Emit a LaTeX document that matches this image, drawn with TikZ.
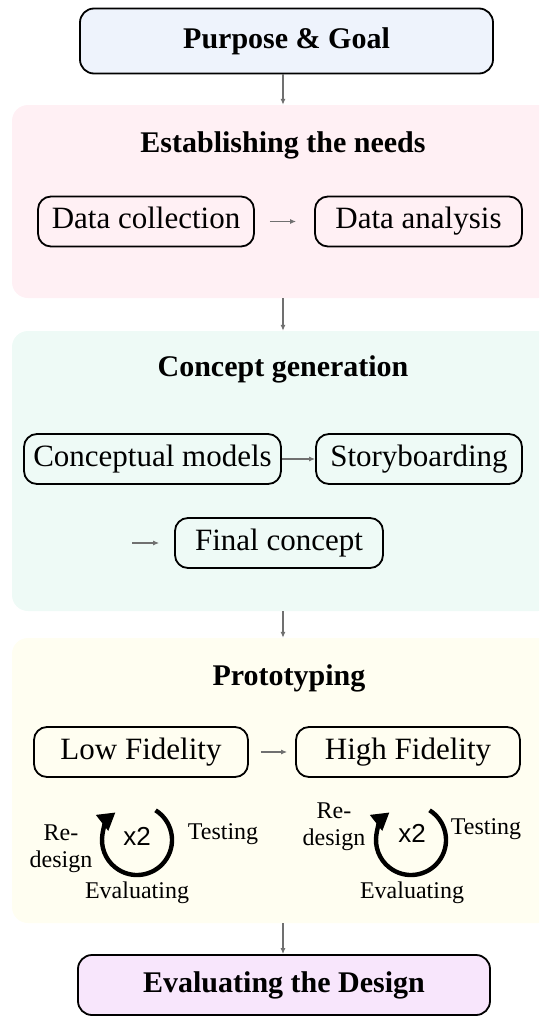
\documentclass[tikz,border=0pt]{standalone}
\usepackage{fontspec}
\setmainfont{Liberation Serif}
\setsansfont{Liberation Sans}
\usetikzlibrary{arrows.meta}
\definecolor{purposefill}{HTML}{EEF3FC}
\definecolor{pinkfill}{HTML}{FFF0F4}
\definecolor{tealfill}{HTML}{EEFAF6}
\definecolor{yellowfill}{HTML}{FFFEF1}
\definecolor{lavfill}{HTML}{F8E6FC}
\definecolor{flowgray}{HTML}{707070}
\begin{document}
\begin{tikzpicture}[x=1pt,y=-1pt,
  mainbox/.style={draw=black, line width=1.8pt, rounded corners=14pt, inner sep=0pt,
    text height=20pt, text depth=6pt, font=\fontsize{30}{34}\selectfont\bfseries},
  stepbox/.style={draw=black, line width=1.8pt, rounded corners=13pt, inner sep=0pt,
    text height=21pt, text depth=6.5pt, minimum height=50pt, font=\fontsize{31}{34}\selectfont},
  region/.style={rounded corners=16pt, inner sep=0pt},
  title/.style={font=\fontsize{30}{34}\selectfont\bfseries, inner sep=0pt},
  flow/.style={draw=flowgray, line width=1.1pt, -{Latex[length=6pt,width=5pt]}},
  loop/.style={line width=4.4pt, -{Triangle[length=17pt,width=19pt]}},
  lbl/.style={font=\fontsize{24}{27}\selectfont, inner sep=0pt, align=center},
  cnt/.style={font=\fontsize{26}{28}\selectfont\sffamily, inner sep=0pt}
]
\useasboundingbox (0,0) rectangle (539,1017);
\clip (0,0) rectangle (539,1017);

% regions
\node[region, fill=pinkfill, minimum width=542pt, minimum height=193pt] (needs) at (283,201.5) {};
\node[region, fill=tealfill, minimum width=542pt, minimum height=280pt] (concept) at (283,471) {};
\node[region, fill=yellowfill, minimum width=542pt, minimum height=285pt] (proto) at (283,780.5) {};

% top and bottom boxes
\node[mainbox, fill=purposefill, minimum width=413pt, minimum height=65pt] (purpose) at (286.5,41) {Purpose \& Goal};
\node[mainbox, fill=lavfill, minimum width=412pt, minimum height=60pt] (evald) at (284,985) {Evaluating the Design};

% establishing the needs
\node[title] (t1) at (283,145) {Establishing the needs};
\node[stepbox, minimum width=216pt] (dc) at (146,221.5) {Data collection};
\node[stepbox, minimum width=207pt] (da) at (418.5,221.5) {Data analysis};
\draw[flow, shorten <=15pt, shorten >=18pt] (dc.east) -- (da.west);

% concept generation
\node[title] (t2) at (283,369) {Concept generation};
\node[stepbox, minimum width=257pt] (cm) at (152.5,459) {Conceptual models};
\node[stepbox, minimum width=206pt] (sb) at (419,459) {Storyboarding};
\draw[flow] (cm.east) -- (sb.west);
\node[stepbox, minimum width=208pt] (fc) at (279,543) {Final concept};
\coordinate (fcin) at (132,543);
\draw[flow, shorten >=15pt] (fcin) -- (fc.west);

% prototyping
\node[title] (t3) at (289,678) {Prototyping};
\node[stepbox, minimum width=214pt] (lf) at (141,752) {Low Fidelity};
\node[stepbox, minimum width=224pt] (hf) at (408,752) {High Fidelity};
\draw[flow, shorten <=12pt, shorten >=8pt] (lf.east) -- (hf.west);

% left loop
\coordinate (c1) at (137,840);
\draw[loop] (c1) ++(-58:35) arc[start angle=-58, end angle=232, radius=35];
\node[cnt] (x2a) at (137,836) {x2};
\node[lbl] (rd1) at (61,849) {Re-\\design};
\node[lbl] (ts1) at (223,834) {Testing};
\node[lbl] (ev1) at (137,893) {Evaluating};

% right loop
\coordinate (c2) at (411,840);
\draw[loop] (c2) ++(-58:35) arc[start angle=-58, end angle=232, radius=35];
\node[cnt] (x2b) at (412,833) {x2};
\node[lbl] (rd2) at (334,827) {Re-\\design};
\node[lbl] (ts2) at (486,829) {Testing};
\node[lbl] (ev2) at (412,893) {Evaluating};

% vertical flow
\draw[flow] (purpose.south -| needs.north) -- (needs.north);
\draw[flow] (needs.south) -- (concept.north);
\draw[flow] (concept.south) -- (proto.north);
\draw[flow] (proto.south) -- (evald.north -| proto.south);
\end{tikzpicture}
\end{document}
